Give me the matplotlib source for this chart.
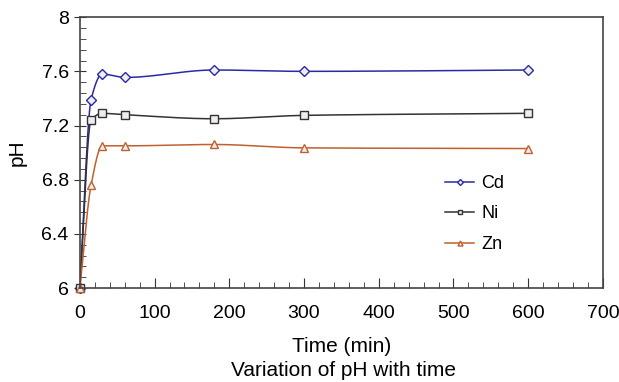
import numpy as np
import matplotlib.pyplot as plt
from matplotlib.ticker import MultipleLocator

plt.rcParams['font.family'] = ['Liberation Sans', 'DejaVu Sans']

# data
time_min = [0, 15, 30, 60, 180, 300, 600]
ph_cd = [6.0, 7.39, 7.58, 7.555, 7.61, 7.60, 7.61]
ph_ni = [6.0, 7.24, 7.29, 7.28, 7.25, 7.275, 7.29]
ph_zn = [6.0, 6.76, 7.05, 7.05, 7.06, 7.035, 7.03]


def smooth(x, y, n=40):
    # monotone cubic (pchip style) curve through the points
    x = np.asarray(x, float)
    y = np.asarray(y, float)
    h = np.diff(x)
    d = np.diff(y) / h
    m = np.zeros_like(y)
    for k in range(1, len(x) - 1):
        if d[k - 1] * d[k] > 0:
            w1 = 2 * h[k] + h[k - 1]
            w2 = h[k] + 2 * h[k - 1]
            m[k] = (w1 + w2) / (w1 / d[k - 1] + w2 / d[k])
    m[0] = d[0]
    m[-1] = d[-1]
    xs, ys = [], []
    t = np.linspace(0, 1, n)
    for k in range(len(x) - 1):
        h00 = 2 * t ** 3 - 3 * t ** 2 + 1
        h10 = t ** 3 - 2 * t ** 2 + t
        h01 = -2 * t ** 3 + 3 * t ** 2
        h11 = t ** 3 - t ** 2
        xs.extend(x[k] + t * h[k])
        ys.extend(h00 * y[k] + h10 * h[k] * m[k] + h01 * y[k + 1] + h11 * h[k] * m[k + 1])
    return xs, ys


fig = plt.figure(figsize=(6.19, 3.82), dpi=100)
ax = fig.add_axes([0.129, 0.246, 0.845, 0.709])

series = [
    ('Cd', ph_cd, '#2a2aa6', 'D', 5),
    ('Ni', ph_ni, '#333333', 's', 5.5),
    ('Zn', ph_zn, '#c0602e', '^', 6),
]

for label, ph, clr, mk, ms in series:
    sx, sy = smooth(time_min, ph)
    ax.plot(sx, sy, color=clr, linewidth=1.1)
    ax.plot(time_min, ph, linestyle='none', marker=mk, markersize=ms, clip_on=False,
            markerfacecolor='#eeeeee', markeredgecolor=clr, markeredgewidth=1)
    ax.plot([], [], color=clr, linewidth=1.1, marker=mk, markersize=ms * 0.6,
            markerfacecolor='#eeeeee', markeredgecolor=clr, label=label)

ax.set_xlim(0, 700)
ax.set_ylim(6, 8)
ax.xaxis.set_major_locator(MultipleLocator(100))
ax.xaxis.set_minor_locator(MultipleLocator(20))
ax.yaxis.set_major_locator(MultipleLocator(0.4))
ax.yaxis.set_minor_locator(MultipleLocator(0.08))
ax.yaxis.set_major_formatter(lambda v, p: ('%.1f' % v).rstrip('0').rstrip('.'))

ax.tick_params(which='major', direction='in', length=7, labelsize=14, color='#333333')
ax.tick_params(which='minor', direction='in', length=4, color='#333333')
ax.tick_params(axis='y', which='major', direction='inout', length=8, pad=4)
ax.tick_params(axis='x', pad=12)
for s in ax.spines.values():
    s.set_color('#444444')
    s.set_linewidth(1.2)

ax.set_xlabel('Time (min)', fontsize=15, labelpad=11)
ax.set_ylabel('pH', fontsize=15, labelpad=11)

ax.legend(loc='center left', bbox_to_anchor=(0.693, 0.44), bbox_transform=fig.transFigure,
          frameon=False, fontsize=13, handlelength=1.6, handletextpad=0.4,
          labelspacing=0.75)

fig.text(0.555, 0.015, 'Variation of pH with time', ha='center', fontsize=15)

fig.savefig('out.png', dpi=100)
